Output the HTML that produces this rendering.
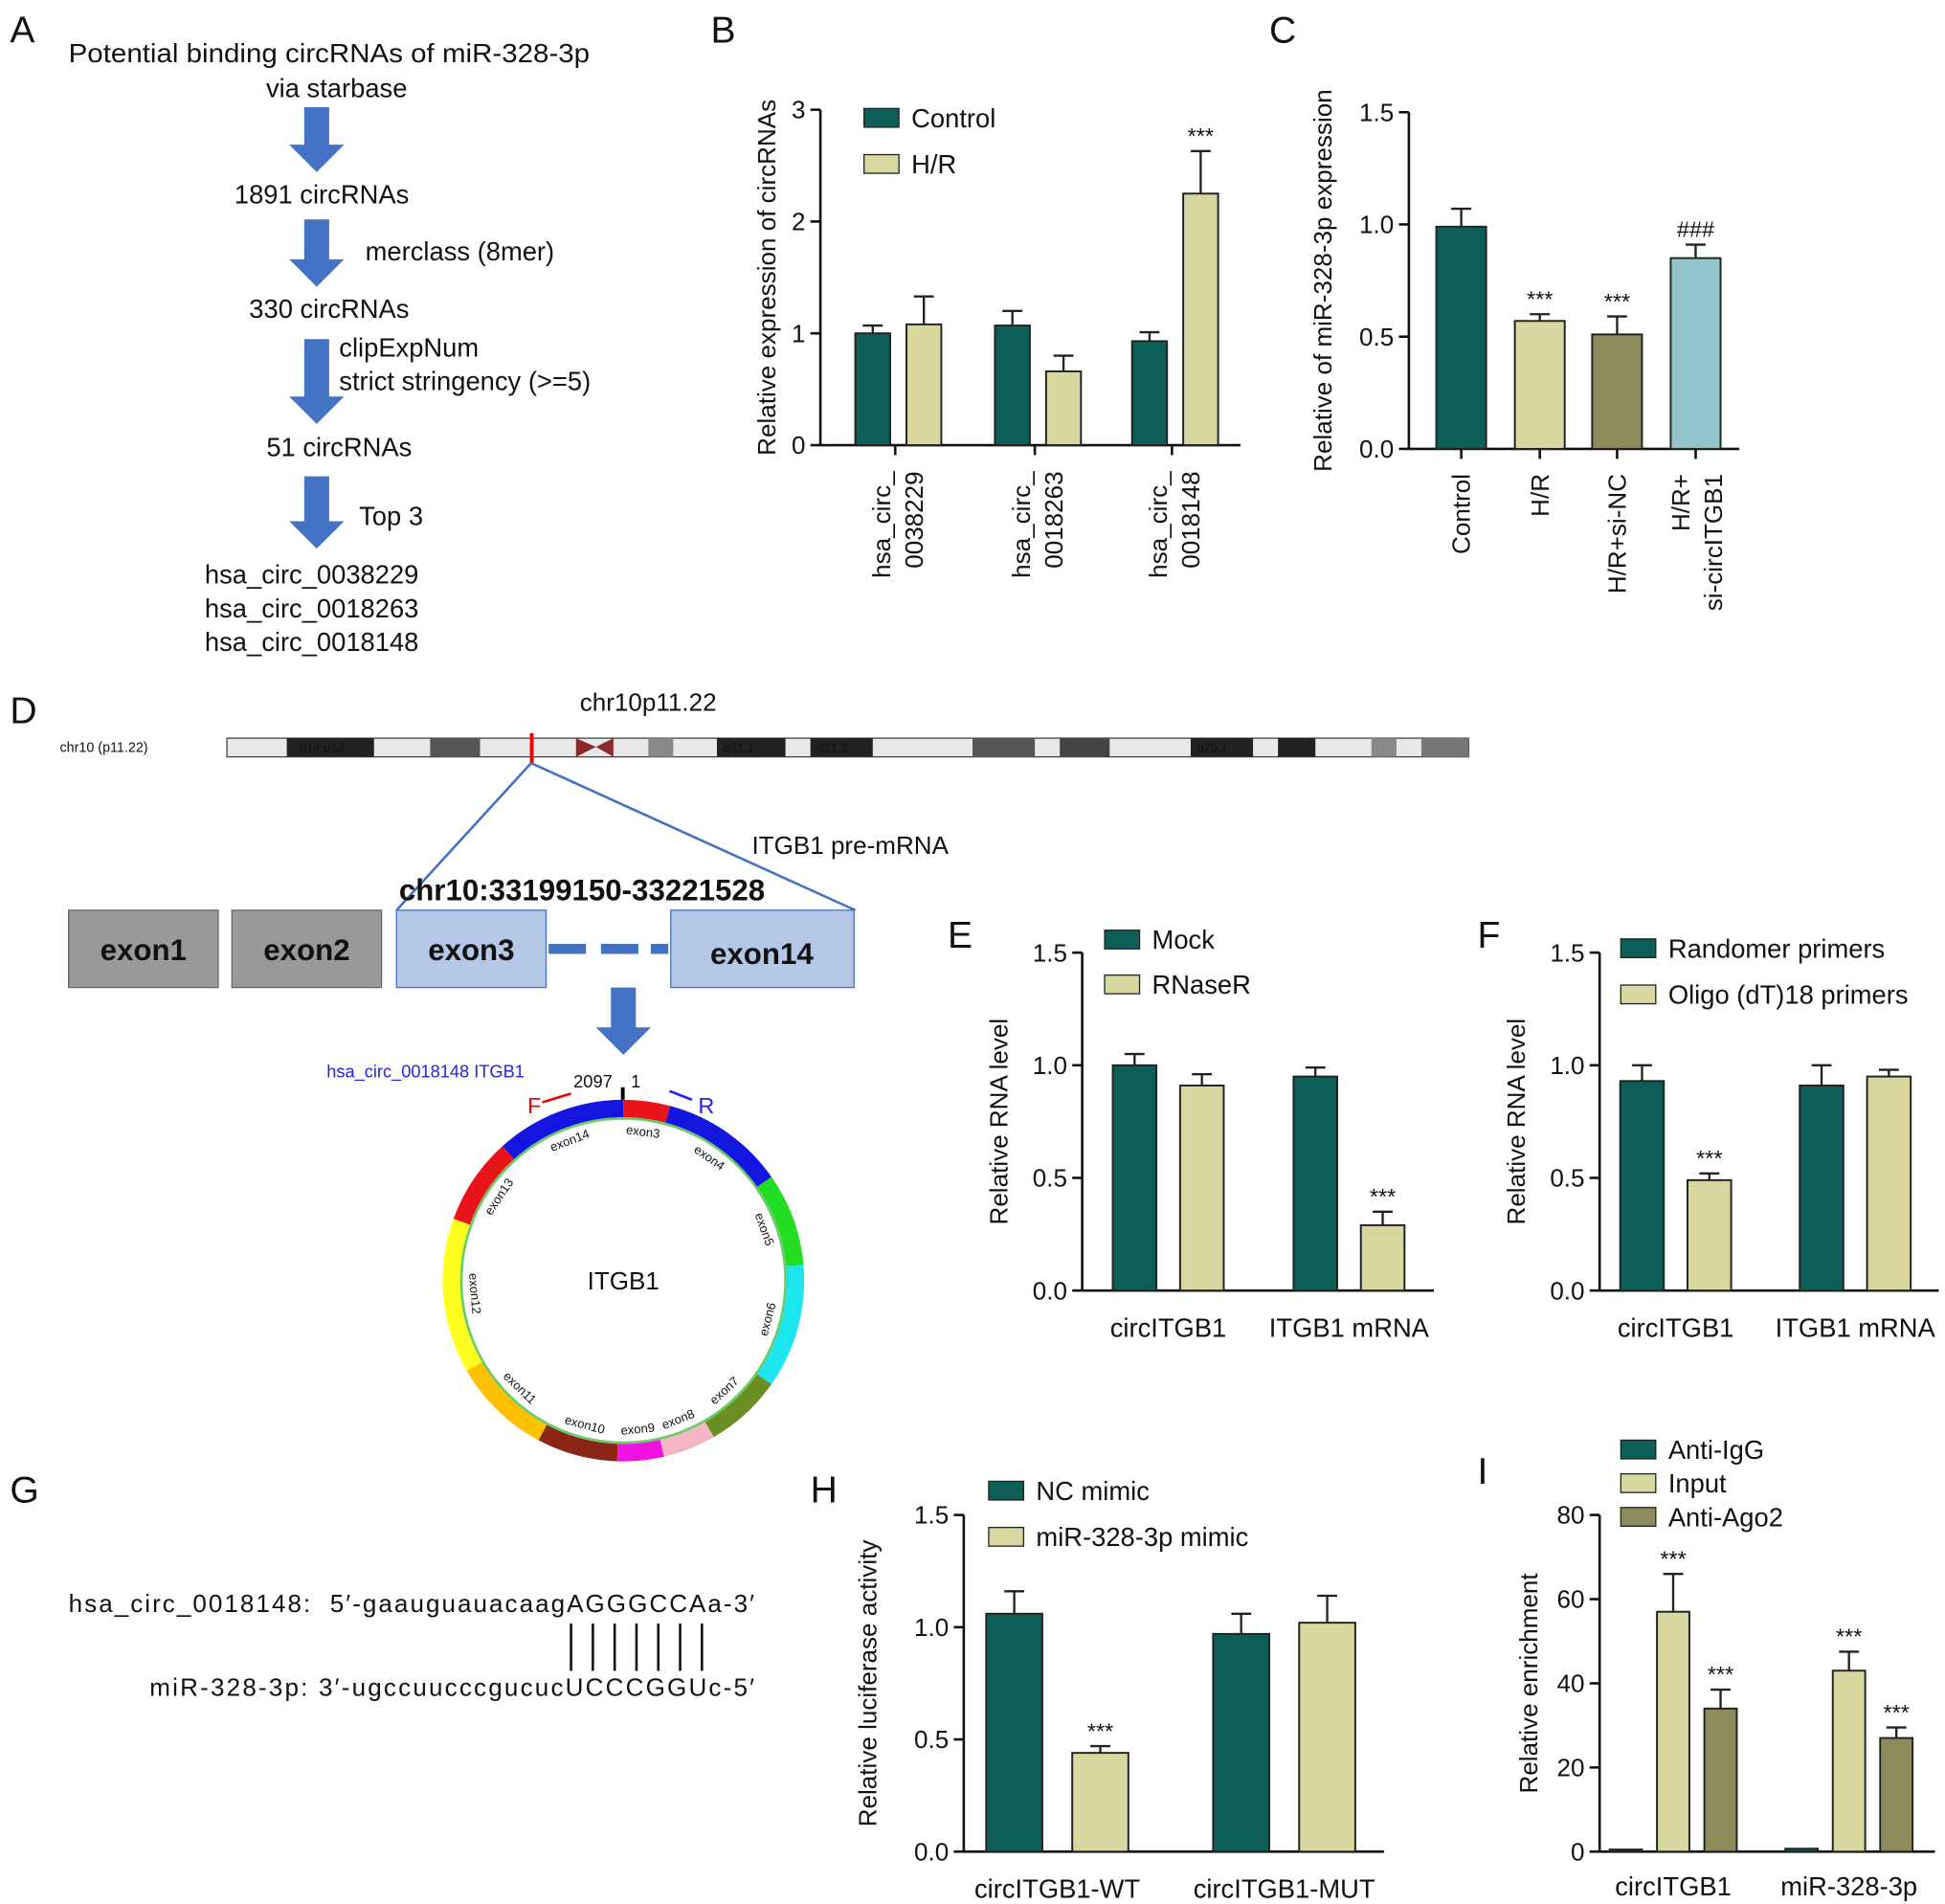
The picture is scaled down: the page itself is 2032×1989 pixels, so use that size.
<!DOCTYPE html>
<html><head><meta charset="utf-8"><style>
html,body{margin:0;padding:0;background:#fff}
svg{display:block}
text{font-family:"Liberation Sans",Arial,sans-serif;fill:#111}
</style></head><body>
<svg id="fig" xmlns="http://www.w3.org/2000/svg" width="2032" height="1989" viewBox="0 0 1560 1527">
<!-- Panel letters -->
<g font-size="30">
<text x="8" y="34">A</text><text x="570" y="34">B</text><text x="1018" y="34">C</text>
<text x="8" y="580">D</text><text x="760" y="760">E</text><text x="1185" y="760">F</text>
<text x="8" y="1205">G</text><text x="650" y="1205">H</text><text x="1185" y="1190">I</text>
</g>
<!-- Panel A -->
<g font-size="21">
<text x="55" y="50" textLength="418" lengthAdjust="spacingAndGlyphs">Potential binding circRNAs of miR-328-3p</text>
<text x="270" y="78" text-anchor="middle">via starbase</text>
<text x="258" y="163" text-anchor="middle">1891 circRNAs</text>
<text x="293" y="209">merclass (8mer)</text>
<text x="264" y="255" text-anchor="middle">330 circRNAs</text>
<text x="272" y="286">clipExpNum</text>
<text x="272" y="313">strict stringency (&gt;=5)</text>
<text x="272" y="366" text-anchor="middle">51 circRNAs</text>
<text x="288" y="421">Top 3</text>
<text x="250" y="468" text-anchor="middle">hsa_circ_0038229</text>
<text x="250" y="495" text-anchor="middle">hsa_circ_0018263</text>
<text x="250" y="522" text-anchor="middle">hsa_circ_0018148</text>
<g fill="#4472c4">
<path d="M244 86h20v30h12l-22 22-22-22h12z"/>
<path d="M244 176h20v32h12l-22 22-22-22h12z"/>
<path d="M244 272h20v46h12l-22 22-22-22h12z"/>
<path d="M244 382h20v36h12l-22 22-22-22h12z"/>
</g></g>
<!-- Panel D -->
<g>
<text x="465" y="570" font-size="20">chr10p11.22</text>
<text x="48" y="603" font-size="11" font-family="Liberation Mono">chr10 (p11.22)</text>
<rect x="182" y="592" width="996" height="15" fill="#e8e8e8" stroke="#444"/>
<g fill="#222"><rect x="230" y="592" width="70" height="15"/><rect x="345" y="592" width="40" height="15" fill="#555"/><rect x="575" y="592" width="55" height="15"/><rect x="650" y="592" width="50" height="15"/><rect x="780" y="592" width="50" height="15" fill="#555"/><rect x="850" y="592" width="40" height="15" fill="#444"/><rect x="955" y="592" width="50" height="15"/><rect x="1025" y="592" width="30" height="15"/><rect x="1140" y="592" width="38" height="15" fill="#777"/><rect x="520" y="592" width="20" height="15" fill="#888"/><rect x="1100" y="592" width="20" height="15" fill="#888"/></g>
<path d="M462 592 L478 599 L462 607Z M492 592 L478 599 L492 607Z" fill="#8b2a2a"/>
<g font-size="10" fill="#fff" font-family="Liberation Mono"><text x="240" y="603">p14 p13</text><text x="580" y="603">q21.1</text><text x="655" y="603">q21.3</text><text x="960" y="603">q25.1</text></g>
<rect x="425" y="588" width="3" height="24" fill="#e00"/>
<path d="M426 612 L318 730 M426 612 L686 730" stroke="#4472c4" stroke-width="2" fill="none"/>
<text x="603" y="685" font-size="20">ITGB1 pre-mRNA</text>
<text x="320" y="722" font-size="24" font-weight="bold">chr10:33199150-33221528</text>
<rect x="55" y="730" width="120" height="62" fill="#999" stroke="#666"/>
<rect x="186" y="730" width="120" height="62" fill="#999" stroke="#666"/>
<rect x="318" y="730" width="120" height="62" fill="#b4c7e7" stroke="#4472c4"/>
<rect x="538" y="730" width="147" height="62" fill="#b4c7e7" stroke="#4472c4"/>
<g font-size="24" font-weight="bold" text-anchor="middle"><text x="115" y="770">exon1</text><text x="246" y="770">exon2</text><text x="378" y="770">exon3</text><text x="611" y="773">exon14</text></g>
<path d="M440 761h30M482 761h30M522 761h14" stroke="#4472c4" stroke-width="8"/>
<path d="M490 792h20v32h12l-22 22-22-22h12z" fill="#4472c4"/>
<text x="262" y="864" font-size="14" fill="#2222ee" style="fill:#2222ee">hsa_circ_0018148 ITGB1</text>
<text x="460" y="872" font-size="14">2097</text><text x="506" y="872" font-size="14">1</text>
<rect x="498" y="872" width="3" height="10" fill="#000"/>
<text x="423" y="893" font-size="18" style="fill:#e00">F</text><path d="M435 884 L458 877" stroke="#e00" stroke-width="2"/>
<text x="560" y="893" font-size="18" style="fill:#2222ee">R</text><path d="M555 882 L537 875" stroke="#2222ee" stroke-width="2"/>
<g id="ring"></g>
<circle cx="500" cy="1027" r="130" fill="none" stroke="#6c6" stroke-width="2"/>
<text x="500" y="1034" font-size="20" text-anchor="middle">ITGB1</text>
</g>
<!-- Panel G -->
<g font-size="20">
<text x="55" y="1293" textLength="550" lengthAdjust="spacing" style="white-space:pre">hsa_circ_0018148:  5′-gaauguauacaagAGGGCCAa-3′</text>
<text x="120" y="1360" textLength="485" lengthAdjust="spacing">miR-328-3p: 3′-ugccuucccgucucUCCCGGUc-5′</text>
<g stroke="#111" stroke-width="2" id="pairs"></g>
</g>
<g id="charts"></g>
<script>
// Panel B data
const bCats=["hsa_circ_\n0038229","hsa_circ_\n0018263","hsa_circ_\n0018148"];
const bControl=[1.0,1.07,0.93];
const bControlErr=[0.07,0.13,0.08];
const bHR=[1.08,0.66,2.25];
const bHRErr=[0.25,0.14,0.38];
const bTicks=[0,1,2,3];
// Panel C data
const cCats=["Control","H/R","H/R+si-NC","H/R+\nsi-circITGB1"];
const cValues=[0.99,0.57,0.51,0.85];
const cErr=[0.08,0.03,0.08,0.06];
const cMarks=["","***","***","###"];
const cTicks=[0,0.5,1.0,1.5];
// Panel E data
const eCats=["circITGB1","ITGB1 mRNA"];
const eMock=[1.0,0.95];
const eMockErr=[0.05,0.04];
const eRNase=[0.91,0.29];
const eRNaseErr=[0.05,0.06];
const eTicks=[0,0.5,1.0,1.5];
// Panel F data
const fCats=["circITGB1","ITGB1 mRNA"];
const fRandom=[0.93,0.91];
const fRandomErr=[0.07,0.09];
const fOligo=[0.49,0.95];
const fOligoErr=[0.03,0.03];
const fTicks=[0,0.5,1.0,1.5];
// Panel H data
const hCats=["circITGB1-WT","circITGB1-MUT"];
const hNC=[1.06,0.97];
const hNCErr=[0.1,0.09];
const hMimic=[0.44,1.02];
const hMimicErr=[0.03,0.12];
const hTicks=[0,0.5,1.0,1.5];
// Panel I data
const iCats=["circITGB1","miR-328-3p"];
const iIgG=[0.5,0.7];
const iInput=[57,43];
const iInputErr=[9,4.5];
const iAgo=[34,27];
const iAgoErr=[4.5,2.5];
const iTicks=[0,20,40,60,80];

const NS="http://www.w3.org/2000/svg";
const COL={teal:"#0e5e58",beige:"#d8d79f",olive:"#8d8a5c",blue:"#93c6cb"};
function mk(tag,attrs,parent){const e=document.createElementNS(NS,tag);for(const k in attrs)e.setAttribute(k,attrs[k]);parent.appendChild(e);return e;}
function txt(s,attrs,parent){const e=mk("text",attrs,parent);e.textContent=s;return e;}
const root=document.getElementById("charts");

function axis(g,x0,y0,y1,max,ticks,fmt,title,xEnd,tx){
  const ys=v=>y0-(v/max)*(y0-y1);
  mk("line",{x1:x0,y1:y0,x2:x0,y2:y1,stroke:"#111","stroke-width":2},g);
  mk("line",{x1:x0,y1:y0,x2:xEnd,y2:y0,stroke:"#111","stroke-width":2},g);
  ticks.forEach(t=>{mk("line",{x1:x0-8,y1:ys(t),x2:x0,y2:ys(t),stroke:"#111","stroke-width":2},g);
    const l=txt(fmt(t),{x:x0-12,y:ys(t)+7,"font-size":20,"text-anchor":"end"},g);
    
    });
  const tt=txt(title,{x:0,y:0,"font-size":20,"text-anchor":"middle",transform:`translate(${x0-(tx||60)},${(y0+y1)/2}) rotate(-90)`},g);
  
  
  return ys;
}
function bar(g,ys,x,w,v,err,col,mark,name){
  const r=mk("rect",{x:x,y:ys(v),width:w,height:ys(0)-ys(v),fill:col,stroke:"#222","stroke-width":1.5},g);
  
  
  const cx=x+w/2;
  if(err){mk("path",{d:`M${cx} ${ys(v)}V${ys(v+err)}M${cx-8} ${ys(v+err)}H${cx+8}`,stroke:"#222","stroke-width":1.8,fill:"none"},g);}
  if(mark){txt(mark,{x:cx,y:ys(v+(err||0))-6,"font-size":18,"text-anchor":"middle"},g);}
}
function legend(g,x,y,dy,items){
  items.forEach((it,i)=>{const r=mk("rect",{x:x,y:y+i*dy-13,width:28,height:15,fill:it[1],stroke:"#222"},g);
    
    
    txt(it[0],{x:x+38,y:y+i*dy+2,"font-size":21},g);});
}
function fmt1(t){return t.toFixed(1);}

// B
{const g=mk("g",{},root);
 const ys=axis(g,658,357,88,3,bTicks,t=>String(t),"Relative expression of circRNAs",995,36);
 const centers=[718,830,940];
 bCats.forEach((c,i)=>{const cx=centers[i];
  bar(g,ys,cx-32,28,bControl[i],bControlErr[i],COL.teal,"",'bar-control');
  bar(g,ys,cx+9,28,bHR[i],bHRErr[i],COL.beige,i==2?"***":"",'bar-hr');
  mk("line",{x1:cx,y1:357,x2:cx,y2:365,stroke:"#111","stroke-width":2},g);
  const parts=c.split("\n");
  parts.forEach((p,j)=>{const l=txt(p,{x:0,y:0,"font-size":20,"text-anchor":"end",transform:`translate(${cx-4+j*26},${378}) rotate(-90)`},g);
   });
 });
 legend(g,693,100,37,[["Control",COL.teal],["H/R",COL.beige]]);
}
// C
{const g=mk("g",{},root);
 const ys=axis(g,1130,360,90,1.5,cTicks,fmt1,"Relative of miR-328-3p expression",1395,62);
 const centers=[1172,1235,1297,1360];const cols=[COL.teal,COL.beige,COL.olive,COL.blue];
 cCats.forEach((c,i)=>{const cx=centers[i];
  bar(g,ys,cx-20,40,cValues[i],cErr[i],cols[i],cMarks[i],'bar-c');
  mk("line",{x1:cx,y1:360,x2:cx,y2:368,stroke:"#111","stroke-width":2},g);
  const parts=c.split("\n");
  parts.forEach((p,j)=>{const l=txt(p,{x:0,y:0,"font-size":20,"text-anchor":"end",transform:`translate(${cx+7-(parts.length-1)*12+j*26},${380}) rotate(-90)`},g);
   });
 });
}
function twoGroup(name,x0,y0,y1,xEnd,ticks,title,cats,centers,bw,gap,s1,e1,s2,e2,marks2,leg,legX,legY,legDy,tx){
 const g=mk("g",{},root);
 const ys=axis(g,x0,y0,y1,ticks[ticks.length-1],ticks,fmt1,title,xEnd,tx);
 cats.forEach((c,i)=>{const cx=centers[i];
  bar(g,ys,cx-gap/2-bw,bw,s1[i],e1[i],COL.teal,"",'bar-series1');
  bar(g,ys,cx+gap/2,bw,s2[i],e2[i],COL.beige,marks2[i],'bar-series2');
  const l=txt(c,{x:cx,y:y0+37,"font-size":21,"text-anchor":"middle"},g);
  
 });
 legend(g,legX,legY,legDy,leg);
}
twoGroup('panel-e-chart',868,1035,764,1150,eTicks,"Relative RNA level",eCats,[937,1082],35,19,eMock,eMockErr,eRNase,eRNaseErr,["","***"],[["Mock",COL.teal],["RNaseR",COL.beige]],886,759,36,60);
twoGroup('panel-f-chart',1283,1035,764,1555,fTicks,"Relative RNA level",fCats,[1344,1488],35,19,fRandom,fRandomErr,fOligo,fOligoErr,["***",""],[["Randomer primers",COL.teal],["Oligo (dT)18 primers",COL.beige]],1300,766,37,60);
twoGroup('panel-h-chart',773,1485,1215,1110,hTicks,"Relative luciferase activity",hCats,[848,1030],45,24,hNC,hNCErr,hMimic,hMimicErr,["***",""],[["NC mimic",COL.teal],["miR-328-3p mimic",COL.beige]],793,1201,37,70);
// I
{const g=mk("g",{},root);
 const ys=axis(g,1283,1485,1215,80,iTicks,t=>String(t),"Relative enrichment",1552,50);
 const centers=[1342,1483];
 iCats.forEach((c,i)=>{const cx=centers[i];
  bar(g,ys,cx-51,26,iIgG[i],0,COL.teal,"",'bar-anti-igg');
  bar(g,ys,cx-13,26,iInput[i],iInputErr[i],COL.beige,"***",'bar-input');
  bar(g,ys,cx+25,26,iAgo[i],iAgoErr[i],COL.olive,"***",'bar-anti-ago2');
  const l=txt(c,{x:cx,y:1520,"font-size":21,"text-anchor":"middle"},g);
  
 });
 legend(g,1300,1168,27,[["Anti-IgG",COL.teal],["Input",COL.beige],["Anti-Ago2",COL.olive]]);
}
// ring
{const ring=document.getElementById("ring");
 const segs=[[0,15,"#e8141a","exon3"],[15,55,"#1515e0","exon4"],[55,85,"#22dd22","exon5"],[85,125,"#1ee6f0","exon6"],[125,150,"#6b8e23","exon7"],[150,167,"#f4b6c2","exon8"],[167,182,"#f012e0","exon9"],[182,208,"#8b2515","exon10"],[208,240,"#ffc000","exon11"],[240,290,"#ffff22","exon12"],[290,318,"#e8141a","exon13"],[318,360,"#1515e0","exon14"]];
 const cx=500,cy=1027,R1=131,R2=145;
 const P=(r,a)=>[cx+r*Math.sin(a*Math.PI/180),cy-r*Math.cos(a*Math.PI/180)];
 segs.forEach(s=>{const a=P(R2,s[0]),b=P(R2,s[1]),c=P(R1,s[1]),d=P(R1,s[0]);
  const p=mk("path",{d:`M${a}A${R2} ${R2} 0 0 1 ${b}L${c}A${R1} ${R1} 0 0 0 ${d}Z`,fill:s[2]},ring);
  
  const m=(s[0]+s[1])/2;const q=P(120,m);
  txt(s[3],{x:q[0],y:q[1]+3,"font-size":10,"text-anchor":"middle",transform:`rotate(${m>90&&m<270?m-180:m} ${q[0]} ${q[1]})`},ring);
 });}
// pairing lines
{const pg=document.getElementById("pairs");for(let i=0;i<7;i++){const x=458+i*17.5;mk("line",{x1:x,y1:1302,x2:x,y2:1340},pg);}}
</script>
</svg>
</body></html>
